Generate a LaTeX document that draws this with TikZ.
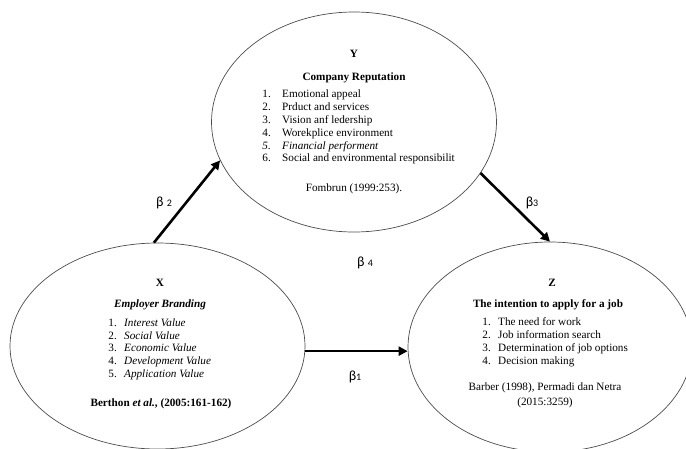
\documentclass[tikz,border=0pt]{standalone}
\usepackage{fontspec}
\setmainfont{Liberation Serif}
\newfontfamily\betafont{Carlito}
\usetikzlibrary{shapes.geometric,arrows.meta}
\begin{document}
\begin{tikzpicture}[x=1pt,y=-1pt,
  oval/.style={ellipse,draw=black!70,line width=0.7pt,inner sep=0pt},
  conn/.style={line width=2.6pt,-{Triangle[length=9pt,width=9pt]}},
  txt/.style={font=\fontsize{11.2}{13}\selectfont,inner sep=0pt},
  ttl/.style={txt,anchor=mid,font=\fontsize{11.2}{13}\selectfont\bfseries},
  num/.style={txt,anchor=mid east},
  itm/.style={txt,anchor=mid west},
  beta/.style={font=\betafont\fontsize{14}{16}\selectfont,inner sep=0pt}]
\useasboundingbox (0,0) rectangle (686,448);
% ovals
\node[oval,minimum width=285pt,minimum height=220pt] (Y) at (354,122) {};
\node[oval,minimum width=295pt,minimum height=206pt] (X) at (157.5,346) {};
\node[oval,minimum width=284pt,minimum height=210pt] (Z) at (550,347) {};
% Y text
\node[ttl] (yh) at (354,55) {Y};
\node[ttl] (yt) at (354,78) {Company Reputation};
\node[num] (yn1) at (271,95.5) {1.};   \node[itm] (yi1) at (282,95.5) {Emotional appeal};
\node[num] (yn2) at (271,108.3) {2.};  \node[itm] (yi2) at (282,108.3) {Prduct and services};
\node[num] (yn3) at (271,121.1) {3.};  \node[itm] (yi3) at (282,121.1) {Vision anf ledership};
\node[num] (yn4) at (271,133.9) {4.};  \node[itm] (yi4) at (282,133.9) {Worekplice environment};
\node[num] (yn5) at (271,146.7) {\itshape 5.};  \node[itm] (yi5) at (282,146.7) {\itshape Financial performent};
\node[num] (yn6) at (271,159.5) {6.};  \node[itm] (yi6) at (282,159.5) {Social and environmental responsibilit};
\node[txt,anchor=mid] (yc) at (354,189) {Fombrun (1999:253).};
% X text
\node[ttl] (xh) at (160,284) {X};
\node[ttl] (xt) at (160,305) {\itshape Employer Branding};
\node[num] (xn1) at (117,324) {1.};   \node[itm] (xi1) at (124,324) {\itshape Interest Value};
\node[num] (xn2) at (117,336.8) {2.}; \node[itm] (xi2) at (124,336.8) {\itshape Social Value};
\node[num] (xn3) at (117,349.6) {3.}; \node[itm] (xi3) at (124,349.6) {\itshape Economic Value};
\node[num] (xn4) at (117,362.4) {4.}; \node[itm] (xi4) at (124,362.4) {\itshape Development Value};
\node[num] (xn5) at (117,375.2) {5.}; \node[itm] (xi5) at (124,375.2) {\itshape Application Value};
\node[ttl] (xc) at (161,404) {Berthon \textit{et al.}, (2005:161-162)};
% Z text
\node[ttl] (zh) at (552,284) {Z};
\node[ttl] (zt) at (548,305) {The intention to apply for a job};
\node[num] (zn1) at (491,323) {1.};   \node[itm] (zi1) at (498,323) {The need for work};
\node[num] (zn2) at (491,336.1) {2.}; \node[itm] (zi2) at (498,336.1) {Job information search};
\node[num] (zn3) at (491,349.2) {3.}; \node[itm] (zi3) at (498,349.2) {Determination of job options};
\node[num] (zn4) at (491,362.3) {4.}; \node[itm] (zi4) at (498,362.3) {Decision making};
\node[txt,anchor=mid] (zc1) at (545,388) {Barber (1998), Permadi dan Netra};
\node[txt,anchor=mid] (zc2) at (545,403) {(2015:3259)};
% connectors
\draw[conn] (X.92) -- (Y.196);
\draw[conn] (Y.-22) -- (Z.north);
\draw[conn] (X.-2) -- (X.-2 -| Z.west);
% beta labels
\node[beta] (b2) at (164,203) {β {\fontsize{10}{12}\selectfont 2}};
\node[beta] (b3) at (532,203) {β{\fontsize{10}{12}\selectfont 3}};
\node[beta] (b4) at (365,263) {β {\fontsize{10}{12}\selectfont 4}};
\node[beta] (b1) at (355,377) {β{\fontsize{10}{12}\selectfont 1}};
\end{tikzpicture}
\end{document}
